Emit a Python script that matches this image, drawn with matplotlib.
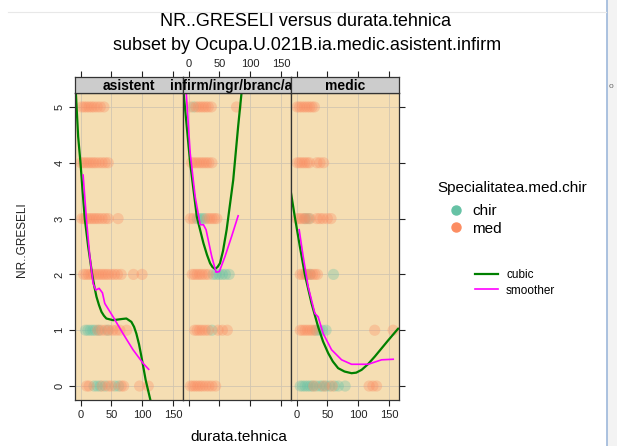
import numpy as np
import matplotlib.pyplot as plt
from matplotlib.lines import Line2D
from matplotlib.patches import Rectangle

plt.rcParams['font.family'] = ['Liberation Sans', 'DejaVu Sans']

W, H = 617, 446
def fx(px):
    return px / W
def fy(py):
    return 1 - py / H

panel_names = ['asistent', 'infirm/ingr/branc/asi', 'medic']
chir_col = '#66C2A5'
med_col = '#FC8D62'

# durata.tehnica values of the points, keyed by NR..GRESELI
asistent_chir = {1: [8, 12, 16, 20, 24, 30, 44],
                 0: [22, 27, 32, 40, 56, 62]}
asistent_med = {5: [2, 6, 10, 14, 18, 22, 27, 32, 38],
                4: [1, 5, 9, 13, 17, 21, 25, 30, 35, 40, 45],
                3: [2, 6, 10, 14, 18, 22, 26, 30, 35, 40, 45, 61],
                2: [5, 9, 13, 17, 21, 25, 29, 33, 37, 41, 45, 50, 55, 60, 66, 86, 100],
                1: [28, 34, 40, 46, 52, 58, 64, 75],
                0: [10, 14, 35, 45, 50, 66, 70, 96, 110]}
infirm_chir = {5: [8],
               3: [14, 18, 22, 26],
               2: [40, 45, 50, 55, 60, 66],
               1: [38]}
infirm_med = {5: [3, 12, 16, 20, 24, 28, 32, 37, 78],
              4: [5, 9, 13, 17, 21, 25, 29, 33, 38],
              3: [3, 8, 30, 34, 38, 42, 46],
              2: [6, 10, 14, 18, 22, 27, 32],
              1: [10, 14, 18, 22, 27, 32, 48, 55, 63],
              0: [3, 7, 11, 15, 19, 23, 28, 33, 38, 44]}
medic_chir = {3: [14, 20],
              2: [16, 22, 60],
              1: [32, 37, 42, 48],
              0: [6, 10, 14, 18, 22, 26, 32, 38, 42, 48, 54, 62, 68, 79]}
medic_med = {5: [1, 5, 9, 13, 17, 21, 25, 29],
             4: [1, 5, 9, 13, 17, 21, 33, 38, 44],
             3: [1, 5, 9, 13, 17, 22, 33, 38, 43, 50, 56],
             2: [6, 10, 14, 18, 22, 26, 30, 34],
             1: [6, 10, 14, 18, 22, 26, 30, 127, 157],
             0: [28, 45, 58, 118, 124, 130]}

# fitted curves
asistent_cubic_x = [-7.6, -3.9, 0, 3.2, 7, 12.4, 18.9, 22.5, 25.9, 30, 34, 38, 42, 52.9, 66.4, 74.5, 82.6, 87, 90.7, 95, 98.9, 105.8, 113.5]
asistent_cubic_y = [5.25, 4.47, 3.99, 3.51, 2.99, 2.5, 2.0, 1.78, 1.6, 1.45, 1.33, 1.26, 1.21, 1.18, 1.2, 1.21, 1.15, 1.06, 0.94, 0.75, 0.53, 0.11, -0.25]
asistent_smooth_x = [4.2, 9.7, 15.1, 20.4, 24.8, 30.2, 35.6, 39.4, 52.9, 69, 85.3, 101.5, 110.7]
asistent_smooth_y = [3.78, 2.97, 2.32, 1.84, 1.72, 1.75, 1.67, 1.48, 1.24, 0.94, 0.65, 0.41, 0.30]
infirm_cubic_x = [-8, 2.7, 13.5, 24.2, 30, 35, 39, 43, 47, 51.1, 56, 61.9, 72.6, 80.6, 86.1]
infirm_cubic_y = [5.25, 3.99, 3.03, 2.56, 2.35, 2.2, 2.13, 2.1, 2.13, 2.2, 2.42, 2.8, 3.69, 4.65, 5.25]
infirm_smooth_x = [-3.7, 2.7, 10.8, 18.9, 24.2, 28.5, 37.7, 44.7, 50, 59.2, 70, 80.6]
infirm_smooth_y = [5.25, 4.17, 3.39, 2.89, 2.89, 2.8, 2.32, 2.04, 2.05, 2.32, 2.68, 3.05]
medic_cubic_x = [-9.3, -2.8, 5.4, 13.5, 24.4, 35.1, 43, 51.4, 59, 67.6, 78, 89.4, 97, 105.7, 116, 127.3, 149, 165.2]
medic_cubic_y = [3.48, 3.03, 2.5, 2.0, 1.48, 1.06, 0.8, 0.59, 0.44, 0.32, 0.26, 0.23, 0.24, 0.29, 0.39, 0.53, 0.82, 1.03]
medic_smooth_x = [4.3, 10.8, 18.9, 29.8, 35.1, 43.3, 56.9, 73.2, 89.4, 116.4, 138.2, 157.1]
medic_smooth_y = [2.8, 2.32, 1.78, 1.3, 1.24, 0.94, 0.65, 0.47, 0.39, 0.39, 0.47, 0.48]

x_ticks = [0, 50, 100, 150]
y_ticks = [0, 1, 2, 3, 4, 5]

points = [(asistent_chir, asistent_med), (infirm_chir, infirm_med), (medic_chir, medic_med)]
cubics = [(asistent_cubic_x, asistent_cubic_y), (infirm_cubic_x, infirm_cubic_y), (medic_cubic_x, medic_cubic_y)]
smooths = [(asistent_smooth_x, asistent_smooth_y), (infirm_smooth_x, infirm_smooth_y), (medic_smooth_x, medic_smooth_y)]

fig = plt.figure(figsize=(W / 100, H / 100), dpi=100)
fig.patch.set_facecolor('white')

# bits of the screenshot around the chart
fig.add_artist(Rectangle((fx(607), 0), fx(10), 1, color='#f3f3f3', lw=0))
fig.add_artist(Line2D([fx(606.5), fx(606.5)], [0, 1], color='#9db7da', lw=1.2))
fig.add_artist(Line2D([fx(8), fx(606)], [fy(12), fy(12)], color='#e8e8e8', lw=0.8))
fig.text(fx(611), fy(86), 'o', fontsize=6, color='#666666', ha='center', va='center')

tick_col = '#222222'
for i in range(3):
    ax = fig.add_axes([fx(75 + 108 * i), fy(400), 108 / W, 307 / H])
    ax.set_facecolor('#F5DEB3')
    ax.set_xlim(-9, 166.5)
    ax.set_ylim(-0.25, 5.25)
    ax.set_xticks(x_ticks)
    ax.set_yticks(y_ticks)
    ax.grid(True, color='#d2c6b0', lw=0.6)
    ax.set_axisbelow(True)
    for s in ax.spines.values():
        s.set_color('#333333')
        s.set_linewidth(0.9)
    chir, med = points[i]
    for y, xs in chir.items():
        ax.scatter(xs, [y] * len(xs), s=65, color=chir_col, alpha=0.33, edgecolors='none')
    for y, xs in med.items():
        ax.scatter(xs, [y] * len(xs), s=65, color=med_col, alpha=0.33, edgecolors='none')
    ax.plot(cubics[i][0], cubics[i][1], color='#008000', lw=1.6, solid_capstyle='round')
    ax.plot(smooths[i][0], smooths[i][1], color='#FF00FF', lw=1.2)

    ax.tick_params(direction='out', length=4, width=0.8, colors=tick_col, labelsize=8)
    ax.tick_params(axis='y', labelrotation=90)
    ax.tick_params(left=(i == 0), labelleft=(i == 0), right=(i == 2), labelright=False,
                   bottom=True, labelbottom=(i != 1), top=False)
    for lab in ax.get_yticklabels():
        lab.set_va('center')

for i in range(3):
    sx = fig.add_axes([fx(75 + 108 * i), fy(93), 108 / W, 16 / H])
    sx.set_facecolor('#CCCCCC')
    sx.set_xlim(-9, 166.5)
    sx.set_yticks([])
    sx.set_xticks(x_ticks)
    sx.xaxis.tick_top()
    sx.tick_params(direction='out', length=4, width=0.8, colors=tick_col, labelsize=8,
                   labeltop=(i == 1), bottom=False, labelbottom=False, pad=2)
    for s in sx.spines.values():
        s.set_color('#333333')
        s.set_linewidth(0.9)
    sx.text(0.5, 0.45, panel_names[i], transform=sx.transAxes, ha='center', va='center',
            fontsize=10, fontweight='bold', clip_on=False)

fig.text(fx(305), fy(22), 'NR..GRESELI versus durata.tehnica', ha='center', va='center', fontsize=13)
fig.text(fx(307), fy(45), 'subset by Ocupa.U.021B.ia.medic.asistent.infirm', ha='center', va='center', fontsize=13)
fig.text(fx(22), fy(240), 'NR..GRESELI', rotation=90, ha='center', va='center', fontsize=8.5, color='#222222')
fig.text(fx(239), fy(437), 'durata.tehnica', ha='center', va='center', fontsize=11)

fig.text(fx(512), fy(188), 'Specialitatea.med.chir', ha='center', va='center', fontsize=11)
h1 = [Line2D([], [], marker='o', ls='', color=chir_col, ms=6.5),
      Line2D([], [], marker='o', ls='', color=med_col, ms=6.5)]
fig.legend(h1, ['chir', 'med'], loc='upper left', bbox_to_anchor=(fx(448), fy(204)),
           frameon=False, fontsize=11, handlelength=1, handletextpad=0.6, borderpad=0,
           borderaxespad=0, labelspacing=0.25)
h2 = [Line2D([], [], color='#008000', lw=1.6), Line2D([], [], color='#FF00FF', lw=1.2)]
fig.legend(h2, ['cubic', 'smoother'], loc='upper left', bbox_to_anchor=(fx(475), fy(269)),
           frameon=False, fontsize=8.5, handlelength=1.95, handletextpad=0.68, borderpad=0,
           borderaxespad=0, labelspacing=0.3)

fig.savefig('out.png', dpi=100)
